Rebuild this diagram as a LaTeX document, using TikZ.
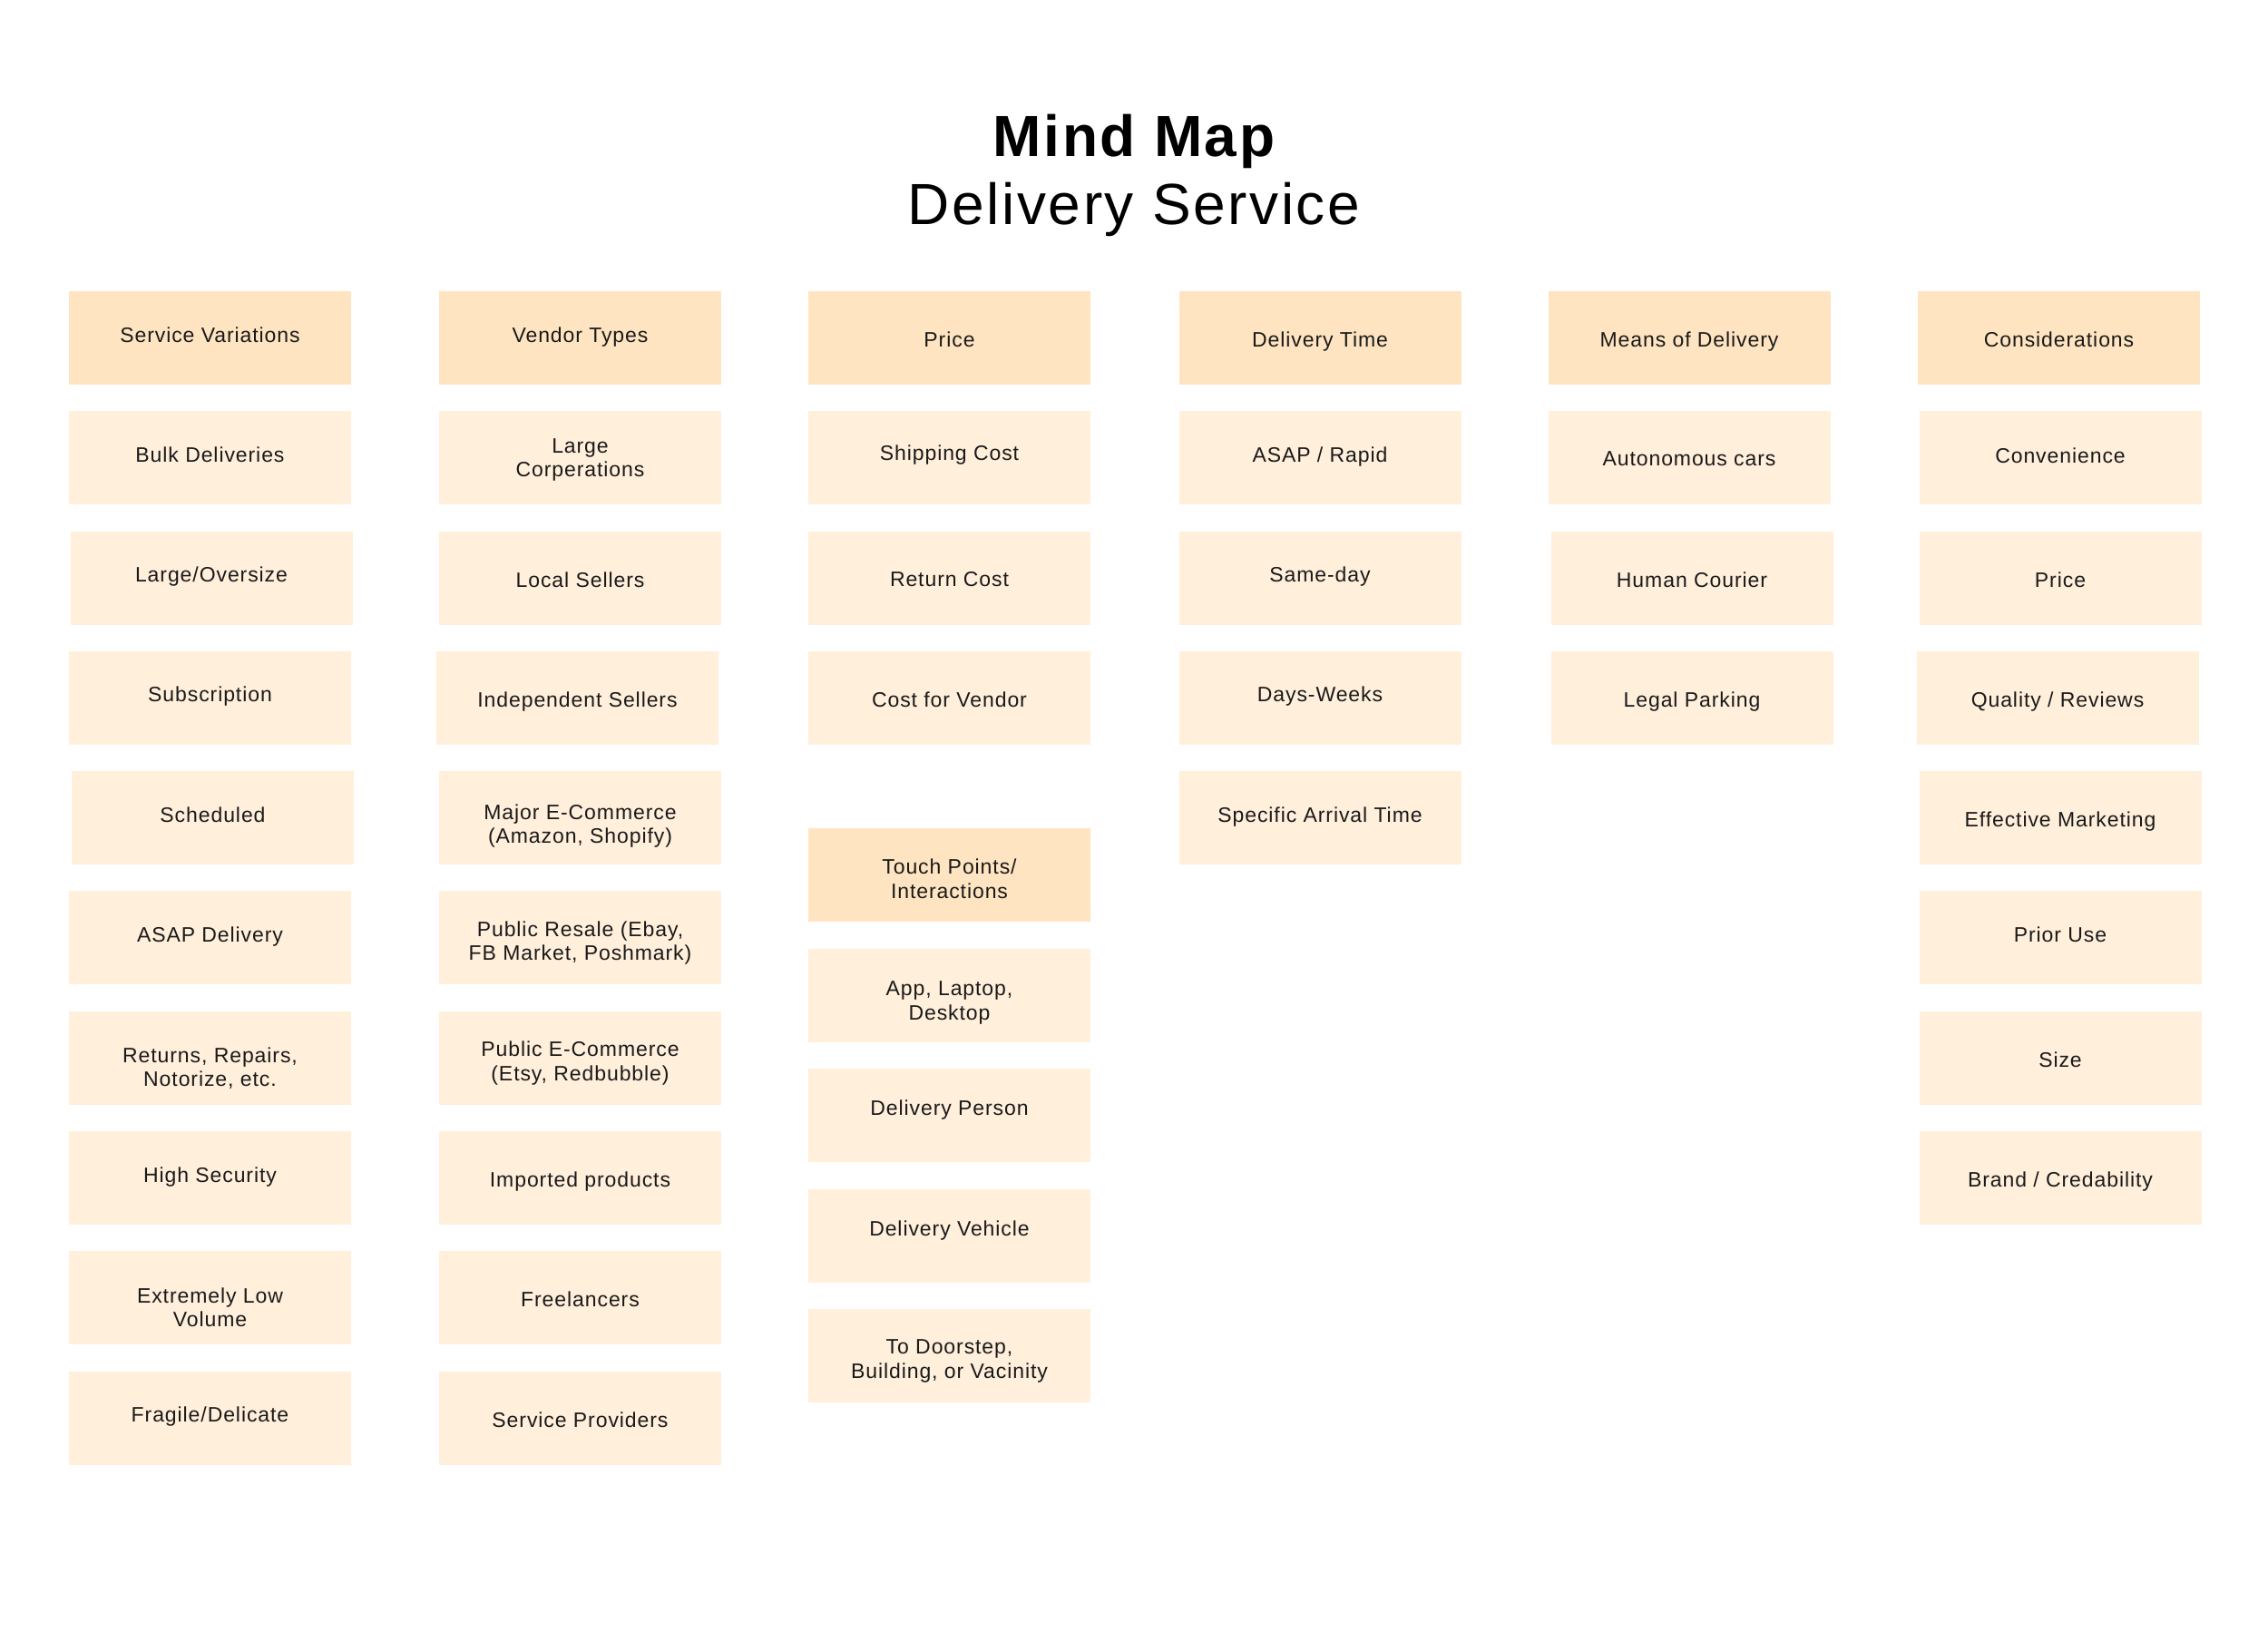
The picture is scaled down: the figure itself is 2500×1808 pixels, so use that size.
\documentclass[tikz,border=0pt]{standalone}
\usepackage{fontspec}
\setmainfont{Liberation Sans}
\newfontfamily\boxfont[LetterSpace=4]{Liberation Sans}
\newfontfamily\titlefont[LetterSpace=4]{Liberation Sans}
\definecolor{headfill}{HTML}{FFE4C1}
\definecolor{itemfill}{HTML}{FFEFDB}
\definecolor{ink}{HTML}{1A1A1A}
\tikzset{
  boxbase/.style={rectangle, inner sep=0pt, minimum width=311pt, minimum height=103pt},
  headbox/.style={boxbase, fill=headfill},
  itembox/.style={boxbase, fill=itemfill},
  lbl/.style={inner sep=0pt, align=center, text=ink, text depth=0.22em, font=\boxfont\fontsize{23}{26.5}\selectfont},
}
\newcommand\bx[6]{%
  \node[#2] (#1) at (#3,#4) {};
  \node[lbl] (#1-t) at ([yshift={-1*(#5)-3}]#1.center) {#6};}
\begin{document}
\begin{tikzpicture}[x=1pt,y=-1pt]
\useasboundingbox (0,0) rectangle (2500,1808);
\fill[white] (0,0) rectangle (2500,1808);
\node[anchor=base, text=black, font=\titlefont\fontsize{64}{70}\selectfont\bfseries] (title) at (1250,172) {Mind Map};
\node[anchor=base, text=black, font=\titlefont\fontsize{64}{70}\selectfont] (subtitle) at (1250,247) {Delivery Service};
% column 1
\bx{c1h}{headbox}{231.5}{372.5}{-5.6}{Service Variations}
\bx{c1a}{itembox}{231.5}{504.5}{-5.6}{Bulk Deliveries}
\bx{c1b}{itembox}{233}{637}{-5.6}{Large/Oversize}
\bx{c1c}{itembox}{231.5}{769}{-5.6}{Subscription}
\bx{c1d}{itembox}{234.5}{901.5}{-5.6}{Scheduled}
\bx{c1e}{itembox}{231.5}{1033.5}{-5.6}{ASAP Delivery}
\bx{c1f}{itembox}{231.5}{1166}{8}{Returns, Repairs,\\Notorize, etc.}
\bx{c1g}{itembox}{231.5}{1298.5}{-5.6}{High Security}
\bx{c1h2}{itembox}{231.5}{1430.5}{8.8}{Extremely Low\\Volume}
\bx{c1i}{itembox}{231.5}{1563}{-5.6}{Fragile/Delicate}
% column 2
\bx{c2h}{headbox}{639.5}{372.5}{-5.6}{Vendor Types}
\bx{c2a}{itembox}{639.5}{504.5}{-1.6}{Large\\Corperations}
\bx{c2b}{itembox}{639.5}{637}{0}{Local Sellers}
\bx{c2c}{itembox}{636.5}{769}{0}{Independent Sellers}
\bx{c2d}{itembox}{639.5}{901.5}{4.8}{Major E-Commerce\\(Amazon, Shopify)}
\bx{c2e}{itembox}{639.5}{1033.5}{1.6}{Public Resale (Ebay,\\FB Market, Poshmark)}
\bx{c2f}{itembox}{639.5}{1166}{1.6}{Public E-Commerce\\(Etsy, Redbubble)}
\bx{c2g}{itembox}{639.5}{1298.5}{0}{Imported products}
\bx{c2h2}{itembox}{639.5}{1430.5}{0}{Freelancers}
\bx{c2i}{itembox}{639.5}{1563}{0}{Service Providers}
% column 3
\bx{c3h}{headbox}{1046.5}{372.5}{0}{Price}
\bx{c3a}{itembox}{1046.5}{504.5}{-7.2}{Shipping Cost}
\bx{c3b}{itembox}{1046.5}{637}{0}{Return Cost}
\bx{c3c}{itembox}{1046.5}{769}{0}{Cost for Vendor}
\bx{c3t}{headbox}{1046.5}{964.5}{2.4}{Touch Points/\\Interactions}
\bx{c3d}{itembox}{1046.5}{1097}{4}{App, Laptop,\\Desktop}
\bx{c3e}{itembox}{1046.5}{1229}{-9.6}{Delivery Person}
\bx{c3f}{itembox}{1046.5}{1362}{-9.6}{Delivery Vehicle}
\bx{c3g}{itembox}{1046.5}{1494}{2.4}{To Doorstep,\\Building, or Vacinity}
% column 4
\bx{c4h}{headbox}{1455}{372.5}{0}{Delivery Time}
\bx{c4a}{itembox}{1455}{504.5}{-5.6}{ASAP / Rapid}
\bx{c4b}{itembox}{1455}{637}{-5.6}{Same-day}
\bx{c4c}{itembox}{1455}{769}{-5.6}{Days-Weeks}
\bx{c4d}{itembox}{1455}{901.5}{-5.6}{Specific Arrival Time}
% column 5
\bx{c5h}{headbox}{1862}{372.5}{0}{Means of Delivery}
\bx{c5a}{itembox}{1862}{504.5}{-0.8}{Autonomous cars}
\bx{c5b}{itembox}{1865}{637}{0}{Human Courier}
\bx{c5c}{itembox}{1865}{769}{0}{Legal Parking}
% column 6
\bx{c6h}{headbox}{2269.5}{372.5}{0}{Considerations}
\bx{c6a}{itembox}{2271}{504.5}{-4}{Convenience}
\bx{c6b}{itembox}{2271}{637}{0}{Price}
\bx{c6c}{itembox}{2268}{769}{0}{Quality / Reviews}
\bx{c6d}{itembox}{2271}{901.5}{0}{Effective Marketing}
\bx{c6e}{itembox}{2271}{1033.5}{-5.6}{Prior Use}
\bx{c6f}{itembox}{2271}{1166}{0}{Size}
\bx{c6g}{itembox}{2271}{1298.5}{0}{Brand / Credability}
\end{tikzpicture}
\end{document}
